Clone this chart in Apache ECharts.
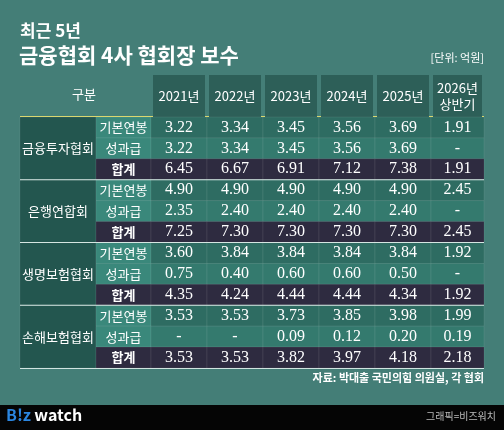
<!DOCTYPE html><html><head><meta charset="utf-8"><script src="https://cdn.jsdelivr.net/npm/echarts@6/dist/echarts.min.js"></script>
<style>html,body{margin:0;padding:0;background:#447e77}#c{width:504px;height:430px}</style></head><body><div id="c"></div><script>
const years=['2021년','2022년','2023년','2024년','2025년','2026년\n상반기'];
const groups=['금융투자협회','은행연합회','생명보험협회','손해보험협회'];
const subs=['기본연봉','성과급','합계'];
const vals=[
['3.22','3.34','3.45','3.56','3.69','1.91'],['3.22','3.34','3.45','3.56','3.69','-'],['6.45','6.67','6.91','7.12','7.38','1.91'],
['4.90','4.90','4.90','4.90','4.90','2.45'],['2.35','2.40','2.40','2.40','2.40','-'],['7.25','7.30','7.30','7.30','7.30','2.45'],
['3.60','3.84','3.84','3.84','3.84','1.92'],['0.75','0.40','0.60','0.60','0.50','-'],['4.35','4.24','4.44','4.44','4.34','1.92'],
['3.53','3.53','3.73','3.85','3.98','1.99'],['-','-','0.09','0.12','0.20','0.19'],['3.53','3.53','3.82','3.97','4.18','2.18']];
const edges=[0,76,131,187,243,299,355,411,464];
const KF='"Noto Sans CJK KR","Noto Sans",sans-serif', NF='"Liberation Serif","DejaVu Serif",serif';
const cells=[];
for(let r=0;r<12;r++){
  const s=r%3;
  if(s===0) cells.push({value:[0,r,3],t:groups[r/3],k:'g'});
  cells.push({value:[1,r,1],t:subs[s],k:'s'+s});
  for(let c=0;c<6;c++) cells.push({value:[2+c,r,1],t:vals[r][c],k:'d'+s});
}
const fills={g:'#23564f',s0:'#3a887b',s1:'#3a887b',s2:'#2e2b40',d0:'#2e6c62',d1:'#347a6e',d2:'#2e2b40'};
const chart=echarts.init(document.getElementById('c'));
chart.setOption({
 backgroundColor:'#447e77',animation:false,
 grid:{left:20,right:20,top:117,height:251},
 xAxis:{type:'value',min:0,max:464,show:false},
 yAxis:{type:'value',min:0,max:12,inverse:true,show:false},
 graphic:[
  {type:'text',left:20,top:22,style:{text:'최근 5년',fill:'#fff',font:'bold 17px '+KF}},
  {type:'text',left:19,top:45,style:{text:'금융협회 4사 협회장 보수',fill:'#fff',font:'bold 21px '+KF}},
  {type:'text',right:20,top:52,style:{text:'[단위: 억원]',fill:'#fff',font:'11px '+KF}},
  {type:'text',left:72,top:88,style:{text:'구분',fill:'#fff',font:'13px '+KF,align:'center'}},
  {type:'line',shape:{x1:20,y1:117,x2:484,y2:117},style:{stroke:'#d9d66b',lineWidth:2}},
  {type:'line',shape:{x1:20,y1:368.5,x2:484,y2:368.5},style:{stroke:'#cfe3df',lineWidth:1}},
  {type:'text',right:20,top:372,style:{text:'자료: 박대출 국민의힘 의원실, 각 협회',fill:'#fff',font:'bold 11px '+KF}},
  {type:'rect',shape:{x:0,y:405,width:504,height:25},style:{fill:'#050505'}},
  {type:'text',left:6,top:407,style:{text:'{b|B!z} {w|watch}',rich:{b:{fill:'#2b86e0',font:'bold 16px '+KF},w:{fill:'#fff',font:'bold 16px '+KF}}}},
  {type:'text',right:8,top:411,style:{text:'그래픽=비즈워치',fill:'#bbb',font:'10px '+KF}},
  ...years.map((y,i)=>({type:'group',children:[
   {type:'rect',shape:{x:20+edges[2+i]+2,y:75,width:edges[3+i]-edges[2+i]-4,height:42},style:{fill:'#2d5f58'}},
   {type:'text',x:20+(edges[2+i]+edges[3+i])/2,y:96,style:{text:y,fill:'#fff',font:'13px '+KF,align:'center',verticalAlign:'middle',lineHeight:16}}]}))
 ],
 series:[{type:'custom',data:cells,renderItem:(p,api)=>{
  const d=cells[p.dataIndex];const c=d.value[0],r=d.value[1],h=d.value[2];
  const a=api.coord([edges[c],r]),b=api.coord([edges[c+1],r+h]);
  const isNum=d.k[0]==='d';
  const ch=[{type:'rect',shape:{x:a[0],y:a[1],width:b[0]-a[0],height:b[1]-a[1]},style:{fill:fills[d.k],stroke:'rgba(255,255,255,0.12)',lineWidth:0.6}},
   {type:'text',x:(a[0]+b[0])/2,y:(a[1]+b[1])/2,style:{text:d.t,fill:'#fff',align:'center',verticalAlign:'middle',
    font:isNum?'16px '+NF:((d.k==='s2')?'bold 13px ':'13px ')+KF}}];
  if(r%3===0&&r>0&&(c===0||d.k==='s0'||d.k==='d0')) ch.push({type:'line',shape:{x1:a[0],y1:a[1],x2:b[0],y2:a[1]},style:{stroke:'#d6e6e2',lineWidth:1}});
  return {type:'group',children:ch};
 }}]
});
</script></body></html>
